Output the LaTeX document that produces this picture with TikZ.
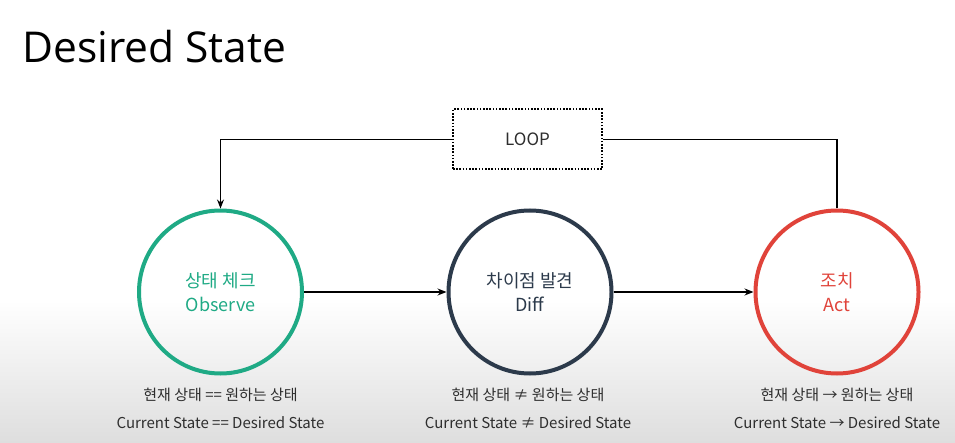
\documentclass[tikz,border=0pt]{standalone}
\usepackage{fontspec}
\setmainfont{Open Sans}
\newfontfamily\krfont{Noto Sans CJK KR}
\usetikzlibrary{arrows.meta}
\definecolor{obsgreen}{HTML}{1FAA85}
\definecolor{diffnavy}{HTML}{2C3A4B}
\definecolor{actred}{HTML}{E0433A}
\definecolor{labelgray}{HTML}{2E2E2E}
\tikzset{
  stage/.style={circle, draw=#1, line width=4pt, minimum size=163pt, inner sep=0pt,
    text=#1, font=\krfont\fontsize{18}{23.5}\selectfont, align=center},
  caption/.style={font=\krfont\fontsize{15}{28}\selectfont, text=labelgray, align=center},
  flow/.style={line width=1.3pt, -{Stealth[length=9pt,width=7pt]}},
  plain/.style={line width=1.3pt},
  loopbox/.style={draw, line width=2pt, dash pattern=on 1.6pt off 1.6pt, minimum width=149pt,
    minimum height=60pt, font=\krfont\fontsize{17}{20}\selectfont, text=labelgray},
}
\begin{document}
\begin{tikzpicture}[x=1pt,y=-1pt]
\useasboundingbox (0,0) rectangle (955,443);
\fill[white] (0,0) rectangle (955,300);
\shade[top color=white, bottom color=black!13] (0,300) rectangle (955,443);
\node[anchor=base west, font=\fontsize{42.5}{48}\selectfont, inner sep=0pt] (title) at (22,63) {Desired State};
\node[stage=obsgreen] (obs) at (220.5,292) {상태 체크\\Observe};
\node[stage=diffnavy] (diff) at (530,292) {차이점 발견\\Diff};
\node[stage=actred] (act) at (837,292) {조치\\Act};
\node[loopbox] (loop) at (527.5,139.5) {LOOP};
\coordinate (cr) at (837,139.5);
\coordinate (cl) at (220.5,139.5);
\draw[flow] (obs.east) -- (diff.west);
\draw[flow] (diff.east) -- (act.west);
\draw[plain] (act.north) -- (cr) -- (loop.east);
\draw[flow] (loop.west) -- (cl) -- (obs.north);
\node[caption] (c1) at (220.5,408) {현재 상태 == 원하는 상태\\Current State == Desired State};
\node[caption] (c2) at (528,408) {현재 상태 ≠ 원하는 상태\\Current State ≠ Desired State};
\node[caption] (c3) at (837,408) {현재 상태 → 원하는 상태\\Current State → Desired State};
\end{tikzpicture}
\end{document}
